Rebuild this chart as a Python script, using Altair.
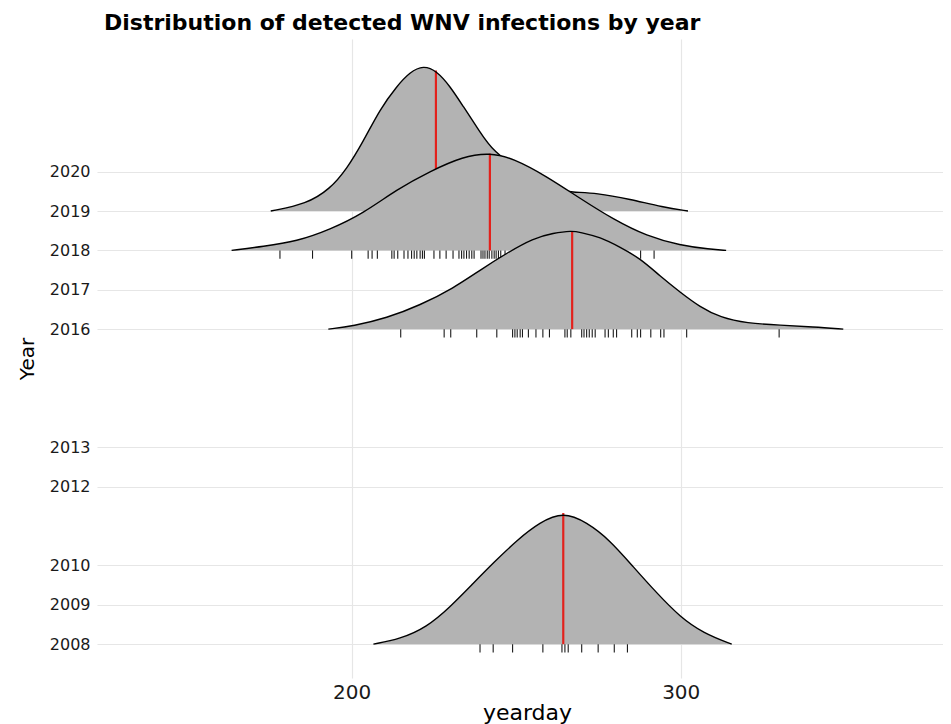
import altair as alt
import pandas as pd

# ---- values ----
year_ticks = [2008, 2009, 2010, 2012, 2013, 2016, 2017, 2018, 2019, 2020]
day_ticks = [200, 300]

ridge_years = [2019, 2018, 2016, 2008]

# density outlines: yearday and ridge height (in year-row units)
day_2019 = [175.4, 186.3, 193.4, 198.5, 203.4, 208.6, 213.7, 217.7, 221.8, 225.8, 229.9,
            233.8, 239.0, 242.9, 252.0, 259.0, 264.0, 266.4, 274.5, 284.6, 294.6, 302.2]
h_2019 = [0.0, 0.18, 0.56, 1.07, 1.75, 2.59, 3.17, 3.53, 3.70, 3.56, 3.17,
          2.67, 2.01, 1.52, 0.97, 0.66, 0.53, 0.48, 0.46, 0.30, 0.10, 0.0]

day_2018 = [163.5, 173.1, 183.3, 193.4, 203.5, 213.7, 223.8, 233.9, 242.0, 249.1, 259.3,
            269.4, 279.5, 289.7, 299.8, 308.9, 313.8]
h_2018 = [0.0, 0.10, 0.23, 0.53, 0.94, 1.55, 2.01, 2.39, 2.48, 2.34, 1.88,
          1.32, 0.79, 0.36, 0.13, 0.03, 0.0]

day_2016 = [192.9, 200.5, 210.6, 220.8, 230.9, 239.0, 247.1, 255.2, 261.3, 266.9, 269.4,
            275.5, 281.6, 287.6, 293.7, 299.8, 305.9, 312.0, 320.1, 330.3, 340.3, 349.4]
h_2016 = [0.0, 0.08, 0.28, 0.61, 1.04, 1.50, 1.93, 2.31, 2.44, 2.50, 2.46,
          2.34, 2.08, 1.80, 1.35, 0.94, 0.56, 0.30, 0.15, 0.10, 0.06, 0.0]

day_2008 = [206.6, 214.7, 222.8, 229.9, 237.0, 243.0, 250.2, 257.2, 264.3, 271.4, 278.5,
            285.6, 292.7, 299.8, 306.9, 315.5]
h_2008 = [0.0, 0.13, 0.43, 0.94, 1.55, 2.06, 2.64, 3.10, 3.36, 3.10, 2.64,
          1.96, 1.30, 0.69, 0.28, 0.0]

# medians (red lines)
median_day = [225.6, 242.0, 267.0, 264.3]
median_h = [3.57, 2.46, 2.49, 3.33]

# rug ticks (observed yeardays)
rug_2018 = [178.2, 188.1, 200.0, 205.0, 206.2, 207.8, 212.2, 212.9, 214.0, 215.9, 217.1,
            218.2, 219.0, 219.8, 220.8, 221.5, 222.1, 225.0, 226.8, 228.7, 230.8, 232.6,
            233.4, 234.1, 234.9, 235.7, 236.5, 237.2, 239.3, 239.9, 240.5, 241.2, 241.8,
            242.6, 243.3, 243.9, 244.6, 245.3, 246.6, 287.8, 291.9]
rug_2016 = [214.9, 228.1, 230.1, 238.0, 244.1, 248.9, 249.6, 250.3, 251.2, 251.9, 253.7,
            256.0, 258.1, 260.1, 264.8, 265.5, 266.6, 269.9, 270.6, 271.4, 272.2, 273.1,
            274.0, 277.0, 278.0, 279.5, 280.5, 285.1, 286.8, 287.8, 290.9, 293.9, 294.9,
            301.8, 329.9]
rug_2008 = [239.0, 243.0, 248.9, 258.1, 263.9, 264.8, 265.8, 269.9, 274.9, 279.8, 283.8]

curves = {2019: (day_2019, h_2019), 2018: (day_2018, h_2018),
          2016: (day_2016, h_2016), 2008: (day_2008, h_2008)}
rugs = {2018: rug_2018, 2016: rug_2016, 2008: rug_2008}

FONT = "DejaVu Sans"
x_scale = alt.Scale(domain=[122.6, 379.7], nice=False, zero=False)
y_scale = alt.Scale(domain=[2007.14, 2023.37], nice=False, zero=False)

x_axis = alt.Axis(values=day_ticks, grid=True, ticks=False, domain=False,
                  labelFontSize=20, labelFont=FONT, labelColor="#1a1a1a", labelPadding=4,
                  title="yearday", titleFontSize=22, titleFont=FONT, titleFontWeight="normal",
                  titleColor="black", titlePadding=0, titleX=430,
                  gridColor="#e6e6e6", gridWidth=1.2)
y_axis = alt.Axis(values=year_ticks, format="d", grid=True, ticks=False, domain=False,
                  labelFontSize=16, labelFont=FONT, labelColor="#1a1a1a", labelPadding=7,
                  title="Year", titleFontSize=20, titleFont=FONT, titleFontWeight="normal",
                  titleColor="black", titlePadding=12,
                  gridColor="#e6e6e6", gridWidth=1.2)

INTERP = "basis"

layers = []
for i, yr in enumerate(ridge_years):
    d, h = curves[yr]
    df = pd.DataFrame({"year": [yr] * len(d), "day": d, "h": h})
    base = alt.Chart(df).transform_calculate(top="datum.year + datum.h")
    area = base.mark_area(color="#b3b3b3", interpolate=INTERP, opacity=1).encode(
        x=alt.X("day:Q", scale=x_scale, axis=x_axis),
        y=alt.Y("top:Q", scale=y_scale, axis=y_axis),
        y2="year:Q",
    )
    mdf = pd.DataFrame({"year": [yr], "day": [median_day[i]], "h": [median_h[i]]})
    red = alt.Chart(mdf).transform_calculate(top="datum.year + datum.h").mark_rule(
        color="#e3211c", strokeWidth=2.2).encode(
        x=alt.X("day:Q", scale=x_scale, axis=x_axis),
        y=alt.Y("top:Q", scale=y_scale, axis=y_axis),
        y2="year:Q",
    )
    line = base.mark_line(color="black", strokeWidth=1.4, interpolate=INTERP).encode(
        x=alt.X("day:Q", scale=x_scale, axis=x_axis),
        y=alt.Y("top:Q", scale=y_scale, axis=y_axis),
    )
    layers += [area, red, line]
    if yr in rugs:
        rdf = pd.DataFrame({"year": [yr] * len(rugs[yr]), "day": rugs[yr]})
        rug = alt.Chart(rdf).transform_calculate(low="datum.year - 0.21").mark_rule(
            color="#1a1a1a", strokeWidth=1.1).encode(
            x=alt.X("day:Q", scale=x_scale, axis=x_axis),
            y=alt.Y("year:Q", scale=y_scale, axis=y_axis),
            y2="low:Q",
        )
        layers.append(rug)

chart = alt.layer(*layers).properties(
    width=846,
    height=639,
    background="white",
    autosize=alt.AutoSizeParams(type="none"),
    padding={"left": 89, "top": 31, "right": 0, "bottom": 46},
    title=alt.TitleParams(
        "Distribution of detected WNV infections by year",
        anchor="start", frame="group", fontSize=22, fontWeight="bold", font=FONT,
        color="black", dx=7, offset=4,
    ),
).configure_view(stroke=None)

chart.save("out.html", embed_options={"renderer": "svg", "actions": False})
